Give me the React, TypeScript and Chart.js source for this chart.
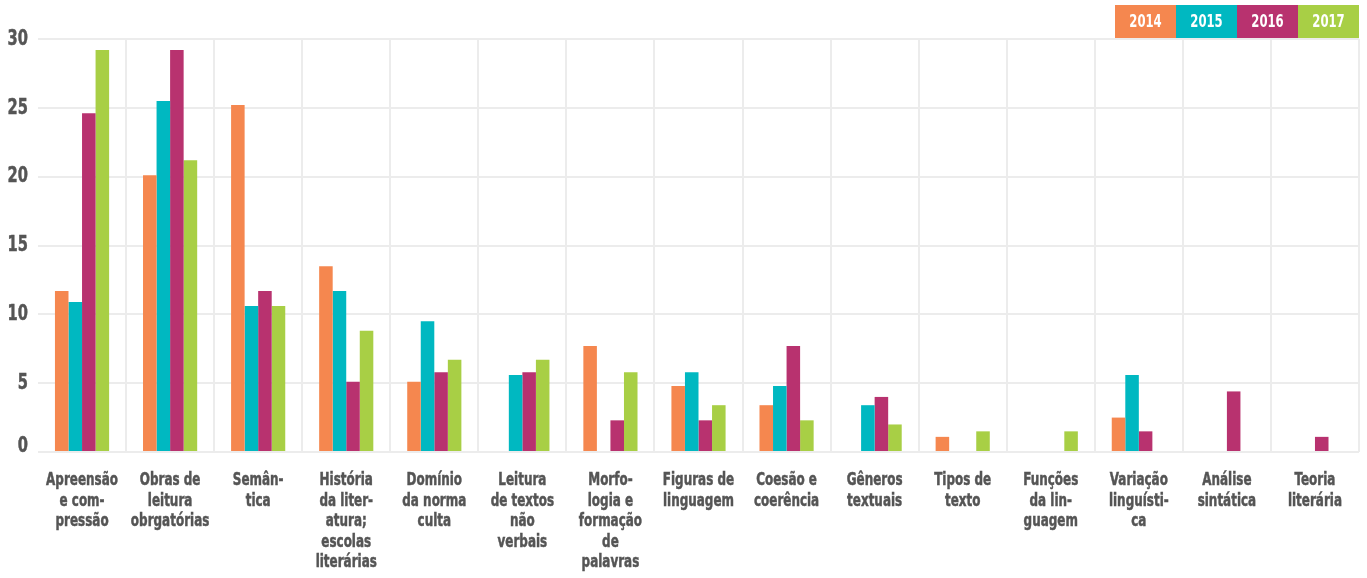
import React, { useEffect, useRef } from "react";
import { Chart, registerables } from "chart.js";

Chart.register(...registerables);

const categories: string[][] = [
  ["Apreensão", "e com-", "pressão"],
  ["Obras de", "leitura", "obrgatórias"],
  ["Semân-", "tica"],
  ["História", "da liter-", "atura;", "escolas", "literárias"],
  ["Domínio", "da norma", "culta"],
  ["Leitura", "de textos", "não", "verbais"],
  ["Morfo-", "logia e", "formação", "de", "palavras"],
  ["Figuras de", "linguagem"],
  ["Coesão e", "coerência"],
  ["Gêneros", "textuais"],
  ["Tipos de", "texto"],
  ["Funções", "da lin-", "guagem"],
  ["Variação", "linguísti-", "ca"],
  ["Análise", "sintática"],
  ["Teoria", "literária"],
];

const years = ["2014", "2015", "2016", "2017"];
const colors = ["#F5874F", "#00B8C1", "#B8326F", "#A8CF45"];

const values2014 = [11.7, 20.1, 25.2, 13.5, 5.1, 0, 7.7, 4.8, 3.4, 0, 1.1, 0, 2.5, 0, 0];
const values2015 = [10.9, 25.5, 10.6, 11.7, 9.5, 5.6, 0, 5.8, 4.8, 3.4, 0, 0, 5.6, 0, 0];
const values2016 = [24.6, 29.2, 11.7, 5.1, 5.8, 5.8, 2.3, 2.3, 7.7, 4.0, 0, 0, 1.5, 4.4, 1.1];
const values2017 = [29.2, 21.2, 10.6, 8.8, 6.7, 6.7, 5.8, 3.4, 2.3, 2.0, 1.5, 1.5, 0, 0, 0];

const yTicks = [0, 5, 10, 15, 20, 25, 30];

const FONT = '"DejaVu Sans Condensed", "DejaVu Sans", sans-serif';
const TEXT_COLOR = "#555555";

function drawSquished(ctx: any, text: string, x: number, y: number, sx: number, stroke = 0) {
  ctx.save();
  ctx.translate(x, y);
  ctx.scale(sx, 1);
  ctx.fillText(text, 0, 0);
  if (stroke > 0) {
    ctx.lineWidth = stroke;
    ctx.strokeStyle = ctx.fillStyle;
    ctx.strokeText(text, 0, 0);
  }
  ctx.restore();
}

const condensedLabels = {
  id: "condensedLabels",
  afterDraw(chart: any) {
    const { ctx } = chart;
    const xs = chart.scales.x;
    const ys = chart.scales.y;
    ctx.save();
    ctx.fillStyle = TEXT_COLOR;
    // x labels
    ctx.font = `bold 17.5px ${FONT}`;
    ctx.textAlign = "center";
    ctx.textBaseline = "alphabetic";
    const firstBaseline = xs.top + 33;
    (chart.data.labels as string[][]).forEach((lines, i) => {
      const x = xs.getPixelForTick(i);
      lines.forEach((line, k) => {
        drawSquished(ctx, line, x, firstBaseline + k * 20.5, 0.76, 0.5);
      });
    });
    // y labels
    ctx.font = `bold 22px ${FONT}`;
    ctx.textAlign = "right";
    ys.ticks.forEach((t: any) => {
      const y = ys.getPixelForValue(t.value);
      ctx.textBaseline = t.value === 0 ? "alphabetic" : "middle";
      drawSquished(ctx, String(t.value), 28, y, 0.74, 0.5);
    });
    // legend boxes
    const w = 61;
    const top = 5;
    const h = 33;
    const n = chart.data.datasets.length;
    const startX = chart.chartArea.right - w * n;
    chart.data.datasets.forEach((ds: any, i: number) => {
      const x = startX + i * w;
      ctx.fillStyle = ds.backgroundColor;
      ctx.fillRect(x, top, w, h);
      ctx.fillStyle = "#ffffff";
      ctx.font = `bold 18px ${FONT}`;
      ctx.textAlign = "center";
      ctx.textBaseline = "middle";
      drawSquished(ctx, ds.label, x + w / 2, top + h / 2 + 1, 0.72);
    });
    ctx.restore();
  },
};

export default function App() {
  const ref = useRef<HTMLCanvasElement>(null);

  useEffect(() => {
    document.body.style.margin = "0";
    const series = [values2014, values2015, values2016, values2017];
    const chart = new Chart(ref.current!, {
      type: "bar",
      data: {
        labels: categories,
        datasets: years.map((y, i) => ({
          label: y,
          data: series[i],
          backgroundColor: colors[i],
          borderWidth: 0,
          categoryPercentage: 0.615,
          barPercentage: 1.0,
        })),
      },
      options: {
        animation: false,
        responsive: true,
        maintainAspectRatio: false,
        layout: { padding: { top: 39, right: 8, bottom: 126, left: 38 } },
        plugins: {
          legend: { display: false },
          tooltip: { enabled: false },
        },
        scales: {
          x: {
            grid: {
              offset: true,
              color: (c: any) => (c.index === 0 ? "rgba(0,0,0,0)" : "#ececec"),
              lineWidth: 2,
              drawTicks: false,
            },
            border: { display: false },
            ticks: { display: false, autoSkip: false, maxRotation: 0 },
          },
          y: {
            min: 0,
            max: 30,
            afterBuildTicks: (scale: any) => {
              scale.ticks = yTicks.map((v) => ({ value: v }));
            },
            grid: { color: "#ececec", lineWidth: 2, drawTicks: false },
            border: { display: false },
            ticks: { display: false },
          },
        },
      },
      plugins: [condensedLabels],
    });
    return () => chart.destroy();
  }, []);

  return (
    <div style={{ position: "relative", width: 1367, height: 578 }}>
      <canvas ref={ref} style={{ display: "block" }} />
    </div>
  );
}
